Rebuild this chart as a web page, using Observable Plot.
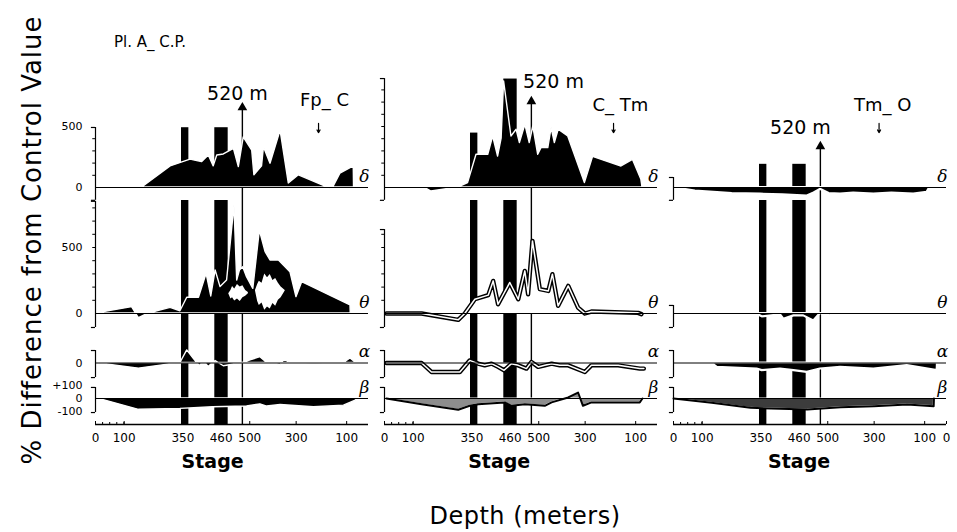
<!DOCTYPE html>
<html><head><meta charset="utf-8">
<script src="https://cdn.jsdelivr.net/npm/d3@7"></script>
<script src="https://cdn.jsdelivr.net/npm/@observablehq/plot@0.6"></script>
<style>
body{margin:0;background:#fff;}
#fig{position:relative;width:957px;height:532px;overflow:hidden;font-family:"DejaVu Sans",sans-serif;background:#fff;}
#fig svg{position:absolute;overflow:visible;}
.lbl{position:absolute;white-space:nowrap;color:#000;transform:translate(-50%,-50%);}
</style></head><body><div id="fig"></div>
<script>
// ---------------- DATA ----------------
const panelKeys = ["Fp_C", "C_Tm", "Tm_O"];
const transitionLabels = ["Fp_ C", "C_ Tm", "Tm_ O"];
const trackKeys = ["δ", "θ", "α", "β"];
const stageTicks = [0, 10.5, 32, 46, 56.5, 73.5, 92, 100];
const depthLabels = ["0", "100", "350", "460", "500", "300", "100", "0"];
const barStages = [[31.5, 34.2], [43.7, 48.6]];
const stage520 = 53.8;
const barTopsDelta = [[490, 490], [446, 889], [190, 190]];
const arrowTip520 = [680, 730, 361];

// panel Fp_C
const fpC_delta = [[0.4,0],[17.1,0],[27.5,173],[34.8,228],[39,208],[41.5,262],[43.3,173],[44.6,262],[47,271],[50.7,317],[52.5,167],[54.3,411],[57.4,303],[58.2,100],[61,173],[61.7,330],[64.1,195],[67.8,466],[70.8,33],[74.5,100],[86.7,-16],[89.7,114],[94.6,173],[94.7,0]];
const fpC_theta = [[0,0],[13.4,48],[15.9,-36],[19.5,0],[27.5,43],[31.1,17],[33.6,119],[37.9,119],[40.7,300],[42.4,129],[44,326],[45.8,200],[48.2,250],[50.9,818],[51.9,250],[52.9,326],[54.1,351],[55.5,275],[57.8,187],[60.2,629],[62.3,465],[64.1,402],[67.2,402],[71.4,313],[73.6,124],[75.7,237],[93.4,61],[93.5,0]];
const fpC_thetaHoleA = [[48.8,150,150],[49.6,110,175],[50.2,120,205],[51,95,185],[52,110,220],[53,90,200],[54,120,210],[55,130,175],[56,150,160]];
const fpC_thetaHoleB = [[58.6,170,175],[59.4,90,220],[60,60,245],[61,80,230],[62,25,300],[63,50,270],[64,35,295],[65,75,250],[66,55,265],[67,100,230],[68,120,200],[69.5,170,175]];
const fpC_alpha = [[0,0],[15.9,-43],[31.1,0],[33.6,97],[36,33],[38.2,-25],[39.7,10],[41.5,-30],[44,15],[47,-25],[54,0],[56.8,20],[60.4,45],[62.9,0],[67.8,-15],[69.2,25],[71.4,0],[80,-5],[91,0],[93.4,35],[95.5,0]];
const fpC_beta = [[0,5],[15.9,-87],[31.1,-80],[43,-67],[55.5,-62],[60.4,-45],[62.9,-62],[67.8,-50],[80,-67],[91,-55],[95.5,-15],[95.6,0]];

// panel C_Tm
const cTm_delta = [[0.7,0],[14.8,-3],[17.2,-33],[27,0],[30.6,36],[33.7,268],[38,268],[39.8,418],[41.6,254],[42.9,400],[43.8,870],[46.5,418],[48.4,473],[49.6,364],[51.6,514],[53.2,364],[54.5,500],[56.3,268],[57.5,323],[60,323],[61.2,487],[62.4,364],[63.8,473],[67.3,418],[73.4,36],[76.4,251],[86.8,172],[91,227],[94.1,63],[94.5,0]];
const cTm_theta = [[0.7,0],[13.6,0],[27,-48],[29.4,0],[33.1,108],[38,139],[39.8,247],[41.6,70],[45.9,235],[49,108],[51.4,323],[52.6,146],[54.2,550],[56.9,184],[60,171],[61.5,298],[63.6,58],[67.3,209],[70.9,45],[73.4,0],[75.8,15],[92.9,5],[94.1,-5]];
const cTm_alpha = [[0.7,0],[13.6,0],[17.2,-69],[27.6,-69],[31.2,20],[34.3,-5],[36.7,-18],[39.2,-5],[41.6,-30],[43.8,-56],[46.5,-5],[49,-18],[52,-43],[53.8,8],[56.3,-30],[58.7,-18],[61.2,-5],[64.2,-18],[67.3,-18],[73.4,-69],[75.8,-18],[85.6,-18],[93.5,-43],[95,-43]];
const cTm_beta = [[0.7,0],[13.6,-44],[27,-87],[31.2,-56],[34.3,-44],[44,-30],[46.5,-56],[51.4,-44],[58.7,-56],[61.2,-30],[67.3,8],[70.9,46],[72.7,-56],[75.8,-30],[93.5,-30],[94.5,0]];

// panel Tm_O
const tmO_delta = [[0,0],[8,-30],[21.5,-50],[31.9,-55],[40,-60],[49,-70],[51.5,-45],[53.8,-15],[57,-50],[61.2,-55],[66,-45],[73.4,-55],[80,-45],[88,-55],[92.9,-40],[94.1,8],[95,0]];
const tmO_theta = [[0,0],[14.2,-10],[16,15],[18.4,15],[30.6,-5],[32.5,-25],[39.2,-10],[40.4,-43],[44.1,-18],[47.7,-18],[51.4,-56],[53.8,0],[57.5,-18],[60.5,20],[61.8,-18],[67.3,13],[72.2,-18],[75.8,15],[91.7,8],[97.8,0]];
const tmO_alpha = [[0,0],[14,0],[16,-33],[30.6,-46],[32.5,-59],[39.2,-46],[44.1,-59],[49,-72],[53.8,-46],[61.2,-33],[73.4,-46],[85.6,-20],[96.6,-59],[96.7,0]];
const tmO_beta = [[0,0],[14,-33],[28.2,-72],[49,-85],[61.2,-67],[73.4,-59],[85.6,-46],[95.3,-59],[95.4,0]];

// ---------------- LAYOUT / STYLE ----------------
const series = [
  [fpC_delta, fpC_theta, fpC_alpha, fpC_beta],
  [cTm_delta, cTm_theta, cTm_alpha, cTm_beta],
  [tmO_delta, tmO_theta, tmO_alpha, tmO_beta]
];
const styles = [
  ["solid","solid","solid","solid"],
  ["solid","line","line","grey"],
  ["solid","solid","solid","dark"]
];
const L = {
  axisStart: [95, 384, 673], innerW: 273, ml: 60, mr: 24,
  rows: [
    {top: 60, bottom: 200, base: 187, k: 0.122},
    {top: 200, bottom: 340, base: 313, k: 0.132},
    {top: 340, bottom: 380, base: 362.5, k: 0.13},
    {top: 380, bottom: 424, base: 398, k: 0.13}
  ]
};
// axis bracket extents (value units) per panel per track
const bracketExt = [
  [[-105, 492], [-106, 850], [-112, 96], [-108, 85]],
  [[-105, 893], [-106, 636], [-112, 96], [-108, 85]],
  [[-105, 82], [-106, 61], [-112, 96], [-108, 85]]
];
const yLabels = [
  [{v:500,t:"500"},{v:0,t:"0"}],
  [{v:500,t:"500"},{v:0,t:"0"}],
  [{v:0,t:"0"}],
  [{v:100,t:"+100"},{v:0,t:"0"},{v:-100,t:"-100"}]
];
const label520 = [[52, 770], [61.9, 869], [46.5, 492]];
const transPos = [[83.9, 713], [86.4, 672], [76.6, 672]];
const transArrowX = [81.7, 83.9, 75.3];
const stageLabelX = [42.9, 42, 46];

const fig = document.getElementById("fig");
const tick = (p) => stageTicks.map((s, i) => ({s, t: depthLabels[i]})).filter((d, i) => p === 2 || i < stageTicks.length - 1);

for (let p = 0; p < 3; p++) {
  for (let r = 0; r < 4; r++) {
    const row = L.rows[r];
    const yDom = [-(row.bottom - row.base) / row.k, (row.base - row.top) / row.k];
    const mb = r === 3 ? 56 : 0;
    const h = row.bottom - row.top + mb;
    const data = series[p][r].map(([x, y]) => ({x, y}));
    const st = styles[p][r];
    const marks = [];
    const bars = barStages.map((b, i) => ({x1: b[0], x2: b[1], y1: r === 0 ? 0 : yDom[0], y2: r === 0 ? barTopsDelta[p][i] : yDom[1]}));
    marks.push(Plot.rect(bars, {x1: "x1", x2: "x2", y1: "y1", y2: "y2", fill: "black"}));
    marks.push(Plot.ruleX([stage520], {y1: yDom[0], y2: r === 0 ? arrowTip520[p] : yDom[1], stroke: "black", strokeWidth: 1.4}));
    if (st === "line") {
      marks.push(Plot.areaY(data, {x: "x", y: "y", fill: "white"}));
      marks.push(Plot.line(data, {x: "x", y: "y", stroke: "black", strokeWidth: 4.4, strokeLinejoin: "round"}));
      marks.push(Plot.line(data, {x: "x", y: "y", stroke: "white", strokeWidth: 1.5, strokeLinejoin: "round"}));
    } else if (st === "grey" || st === "dark") {
      marks.push(Plot.areaY(data, {x: "x", y: "y", fill: st === "grey" ? "#8d8d8d" : "#3c3c3c", stroke: "white", strokeWidth: 1}));
      marks.push(Plot.line(data, {x: "x", y: "y", stroke: "black", strokeWidth: 2}));
    } else {
      marks.push(Plot.areaY(data, {x: "x", y: "y", fill: "black", stroke: "white", strokeWidth: p === 2 ? 2.2 : 1.4, strokeLinejoin: "round"}));
    }
    if (p === 0 && r === 1) {
      for (const hole of [fpC_thetaHoleA, fpC_thetaHoleB]) {
        marks.push(Plot.areaY(hole.map(([x, lo, hi]) => ({x, lo, hi})), {x: "x", y1: "lo", y2: "hi", fill: "white"}));
      }
    }
    marks.push(Plot.ruleY([0], {x1: 0, x2: 100, stroke: "black", strokeWidth: 1}));
    const ext = bracketExt[p][r];
    marks.push(Plot.ruleX([0], {y1: ext[0], y2: ext[1], stroke: "black", strokeWidth: 1.2}));
    marks.push(Plot.ruleY(ext, {x1: -1.5, x2: 0, stroke: "black", strokeWidth: 1.2}));
    if (r < 2) marks.push(Plot.ruleY(d3.range(100, ext[1], 100), {x1: -1, x2: 0, stroke: "black", strokeWidth: 1}));
    marks.push(Plot.text([trackKeys[r]], {text: d => d, x: 98.5, y: 0, dy: -11, fontFamily: "DejaVu Serif", fontStyle: "italic", fontSize: 17}));
    if (p === 0) marks.push(Plot.text(yLabels[r], {x: 0, y: "v", text: "t", dx: -13, textAnchor: "end", fontSize: 11, fontFamily: "DejaVu Sans"}));
    if (r === 0) {
      marks.push(Plot.dot([0], {x: stage520, y: arrowTip520[p], dy: 3, symbol: "triangle", r: 3.6, fill: "black"}));
      marks.push(Plot.text(["520 m"], {text: d => d, x: label520[p][0], y: label520[p][1], fontSize: 19, fontFamily: "DejaVu Sans"}));
      marks.push(Plot.text([transitionLabels[p]], {text: d => d, x: transPos[p][0], y: transPos[p][1], fontSize: 18, fontFamily: "DejaVu Sans"}));
      marks.push(Plot.arrow([0], {x1: transArrowX[p], x2: transArrowX[p], y1: 525, y2: 450, headLength: 4, strokeWidth: 1.2, stroke: "black"}));
    }
    if (r === 3) {
      const tk = tick(p);
      marks.push(Plot.ruleY([yDom[0]], {x1: 0, x2: 100, stroke: "black", strokeWidth: 1.3}));
      marks.push(Plot.ruleX(tk, {x: "s", y1: yDom[0], y2: yDom[0] + 3 / row.k, stroke: "black"}));
      marks.push(Plot.ruleX(d3.range(2.6, 10.5, 2.6), {y1: yDom[0], y2: yDom[0] + 2 / row.k, stroke: "black"}));
      marks.push(Plot.text(tk, {x: "s", text: "t", y: yDom[0], dy: 14, fontSize: 12, fontFamily: "DejaVu Sans"}));
      marks.push(Plot.text(["Stage"], {text: d => d, x: stageLabelX[p], y: yDom[0], dy: 37, fontSize: 19, fontWeight: "bold", fontFamily: "DejaVu Sans"}));
    }
    const svg = Plot.plot({
      width: L.ml + L.innerW + L.mr, height: h,
      marginLeft: L.ml, marginRight: L.mr, marginTop: 0, marginBottom: mb,
      x: {domain: [0, 100], axis: null},
      y: {domain: yDom, axis: null},
      style: {background: "transparent", overflow: "visible"},
      marks
    });
    svg.style.left = (L.axisStart[p] - L.ml) + "px";
    svg.style.top = row.top + "px";
    fig.appendChild(svg);
  }
}

function addLabel(text, x, y, css) {
  const d = document.createElement("div");
  d.className = "lbl";
  d.textContent = text;
  d.style.left = x + "px"; d.style.top = y + "px";
  Object.assign(d.style, css || {});
  fig.appendChild(d);
}
addLabel("Pl. A_ C.P.", 150, 42, {fontSize: "15px"});
addLabel("% Difference from Control Value", 32, 240, {fontSize: "26px", letterSpacing: "1px", transform: "translate(-50%,-50%) rotate(-90deg)"});
addLabel("Depth (meters)", 525, 516, {fontSize: "24px", letterSpacing: "0.5px"});
</script></body></html>
